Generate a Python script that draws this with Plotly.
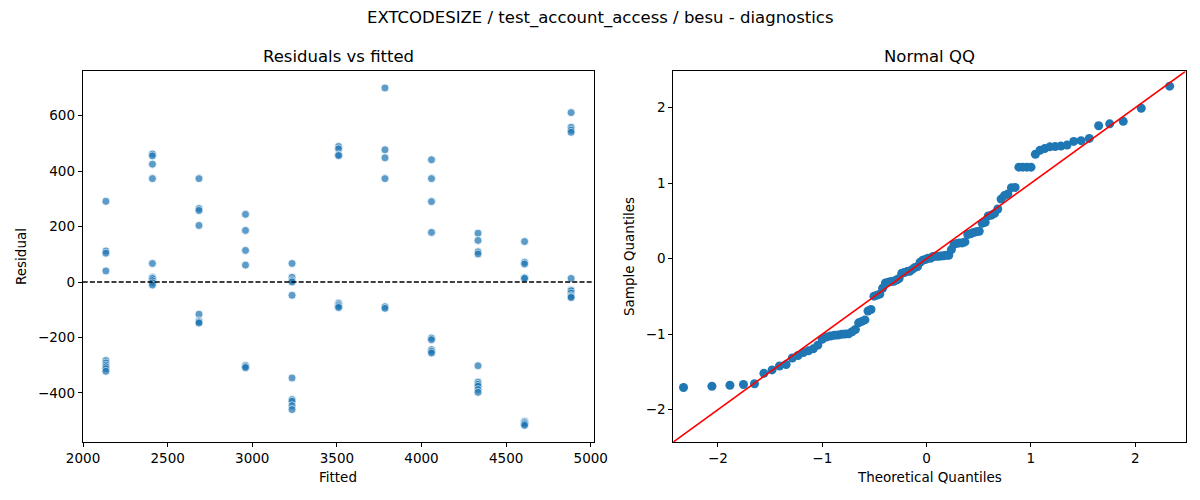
import numpy as np
import plotly.graph_objects as go

# ---------------- data ----------------
fitted_levels = [2135, 2410, 2685, 2960, 3235, 3510, 3784, 4059, 4334, 4609, 4884]
residual_groups = [
    [291, 112, 104, 40, -283, -292, -300, -306, -313, -322],
    [462, 455, 425, 373, 67, 17, 14, 12, 5, -3, -11],
    [373, 265, 258, 204, -116, -140, -144, -148],
    [244, 186, 114, 61, -301, -305, -309],
    [67, 17, 5, 0, -48, -346, -424, -430, -446, -460],
    [489, 480, 458, 456, -77, -83, -88, -92],
    [700, 477, 448, 373, -89, -95],
    [441, 373, 290, 179, -202, -208, -244, -250, -256],
    [176, 150, 109, 101, -302, -361, -369, -376, -388, -398],
    [146, 71, 65, 15, 13, -502, -505, -508, -512, -517],
    [611, 558, 548, 540, 13, -29, -32, -40, -49, -53, -56],
]
left_xticks = [2000, 2500, 3000, 3500, 4000, 4500, 5000]
left_yticks = [-400, -200, 0, 200, 400, 600]
qq_ticks = [-2, -1, 0, 1, 2]

fitted = []
resid = []
for f, g in zip(fitted_levels, residual_groups):
    for r in g:
        fitted.append(f)
        resid.append(r)
fitted = np.array(fitted, dtype=float)
resid = np.array(resid, dtype=float)


# inverse normal CDF (Acklam)
def norm_ppf(p):
    a = [-3.969683028665376e+01, 2.209460984245205e+02, -2.759285104469687e+02,
         1.383577518672690e+02, -3.066479806614716e+01, 2.506628277459239e+00]
    b = [-5.447609879822406e+01, 1.615858368580409e+02, -1.556989798598866e+02,
         6.680131188771972e+01, -1.328068155288572e+01]
    c = [-7.784894002430293e-03, -3.223964580411365e-01, -2.400758277161838e+00,
         -2.549732539343734e+00, 4.374664141464968e+00, 2.938163982698783e+00]
    d = [7.784695709041462e-03, 3.224671290700398e-01, 2.445134137142996e+00,
         3.754408661907416e+00]
    out = []
    for q in p:
        if q < 0.02425:
            t = np.sqrt(-2 * np.log(q))
            v = (((((c[0]*t+c[1])*t+c[2])*t+c[3])*t+c[4])*t+c[5]) / ((((d[0]*t+d[1])*t+d[2])*t+d[3])*t+1)
        elif q > 1 - 0.02425:
            t = np.sqrt(-2 * np.log(1 - q))
            v = -(((((c[0]*t+c[1])*t+c[2])*t+c[3])*t+c[4])*t+c[5]) / ((((d[0]*t+d[1])*t+d[2])*t+d[3])*t+1)
        else:
            t = q - 0.5
            r = t * t
            v = (((((a[0]*r+a[1])*r+a[2])*r+a[3])*r+a[4])*r+a[5])*t / (((((b[0]*r+b[1])*r+b[2])*r+b[3])*r+b[4])*r+1)
        out.append(v)
    return np.array(out)


n = len(resid)
sample_q = (np.sort(resid) - resid.mean()) / resid.std()
theo_q = norm_ppf(np.arange(1, n + 1) / (n + 1))

# page places the figure 8px in from the top-left corner
OFF = 8
W, H = 1200 - 2 * OFF, 500 - 2 * OFF


def px(x):
    return (x - OFF) / W


def py(y):
    return 1 - (y - OFF) / H


FONT = "DejaVu Sans"
fig = go.Figure()

fig.add_trace(go.Scatter(
    x=fitted, y=resid, mode="markers", xaxis="x", yaxis="y",
    marker=dict(color="#1f77b4", size=8, opacity=0.72,
                line=dict(color="white", width=0.8)),
    showlegend=False, hoverinfo="x+y"))

fig.add_trace(go.Scatter(
    x=theo_q, y=sample_q, mode="markers", xaxis="x2", yaxis="y2",
    marker=dict(color="#1f77b4", size=9, line=dict(width=0)),
    showlegend=False))

qlo, qhi = -2.428, 2.482
fig.add_trace(go.Scatter(
    x=[qlo, qhi], y=[qlo, qhi], mode="lines", xaxis="x2", yaxis="y2",
    line=dict(color="red", width=1.6), showlegend=False, hoverinfo="skip"))

fig.add_shape(type="line", xref="x domain", yref="y", x0=0, x1=1, y0=0, y1=0,
              line=dict(color="black", width=1.3, dash="5px,2.2px"))

axis_common = dict(showgrid=False, zeroline=False, showline=True, linecolor="black",
                   linewidth=1, mirror=True, ticks="outside", ticklen=4, tickwidth=1,
                   automargin=False,
                   tickcolor="black", tickfont=dict(family=FONT, size=13.5, color="black"))

fig.update_layout(
    width=W, height=H,
    margin=dict(l=0, r=0, t=0, b=0, autoexpand=False),
    paper_bgcolor="white", plot_bgcolor="white",
    font=dict(family=FONT, color="black"),
    xaxis=dict(domain=[px(82.7), px(594.3)], range=[1998, 5021],
               tickvals=left_xticks, anchor="y", **axis_common),
    yaxis=dict(domain=[py(442), py(71.3)], range=[-577, 760],
               tickvals=left_yticks, anchor="x", **axis_common),
    xaxis2=dict(domain=[px(673.3), px(1185.5)], range=[qlo, qhi],
                tickvals=qq_ticks, anchor="y2", **axis_common),
    yaxis2=dict(domain=[py(442), py(71.3)], range=[qlo, qhi],
                tickvals=qq_ticks, anchor="x2", **axis_common),
)

ann = [
    dict(text="EXTCODESIZE / test_account_access / besu - diagnostics", x=600, y=18, size=16.5),
    dict(text="Residuals vs fitted", x=338.5, y=56, size=16.5),
    dict(text="Normal QQ", x=929, y=56, size=16.5),
    dict(text="Fitted", x=338.5, y=477, size=13.5),
    dict(text="Theoretical Quantiles", x=929, y=477, size=13.5),
    dict(text="Residual", x=21, y=257, size=13.5, angle=-90),
    dict(text="Sample Quantiles", x=629, y=257, size=13.5, angle=-90),
]
for a in ann:
    fig.add_annotation(text=a["text"], xref="paper", yref="paper",
                       x=px(a["x"]), y=py(a["y"]), xanchor="center", yanchor="middle",
                       showarrow=False, textangle=a.get("angle", 0),
                       font=dict(family=FONT, size=a["size"], color="black"))

fig.write_html("out.html")
